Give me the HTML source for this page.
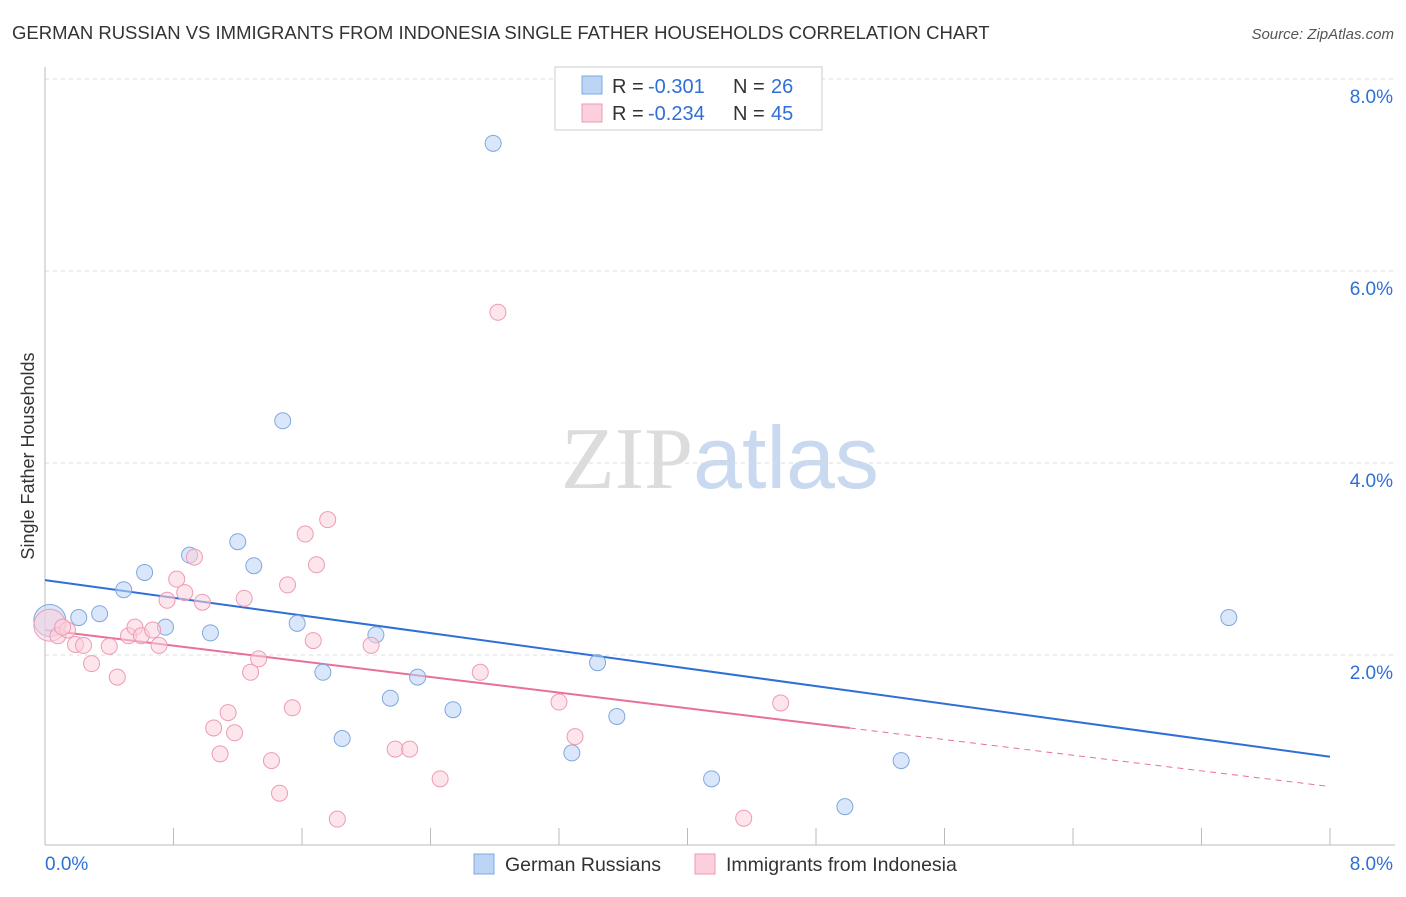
<!DOCTYPE html>
<html><head><meta charset="utf-8"><style>
body{margin:0;background:#fff;font-family:"Liberation Sans",sans-serif;}
svg text{font-family:"Liberation Sans",sans-serif;}
</style></head><body>
<svg id="chart" width="1406" height="892" xmlns="http://www.w3.org/2000/svg">
<text x="12" y="39" font-size="18.5" fill="#333">GERMAN RUSSIAN VS IMMIGRANTS FROM INDONESIA SINGLE FATHER HOUSEHOLDS CORRELATION CHART</text>
<text x="1394" y="39" font-size="15" fill="#555" text-anchor="end" font-style="italic">Source: ZipAtlas.com</text>
<text x="720" y="488" font-size="88" text-anchor="middle"><tspan fill="#dcdcdc" font-family="Liberation Serif">ZIP</tspan><tspan fill="#c9d9f0">atlas</tspan></text>
<text transform="translate(34,456) rotate(-90)" font-size="18" fill="#333" text-anchor="middle">Single Father Households</text>
<g id="grid"></g><g id="axes"></g><g id="lines"></g><g id="pts"></g>
<g>
<rect x="555" y="67" width="267" height="63" fill="#fff" stroke="#ccc"/>
<rect x="582" y="76" width="20" height="18" fill="#bcd4f5" stroke="#7fa8e0"/>
<text x="612" y="93" font-size="20" fill="#333">R =</text>
<text x="648" y="93" font-size="20" fill="#2f6fd6">-0.301</text>
<text x="733" y="93" font-size="20" fill="#333">N =</text>
<text x="771" y="93" font-size="20" fill="#2f6fd6">26</text>
<rect x="582" y="104" width="20" height="18" fill="#fbd0dc" stroke="#ef9ab3"/>
<text x="612" y="120" font-size="20" fill="#333">R =</text>
<text x="648" y="120" font-size="20" fill="#2f6fd6">-0.234</text>
<text x="733" y="120" font-size="20" fill="#333">N =</text>
<text x="771" y="120" font-size="20" fill="#2f6fd6">45</text>
</g>
<g>
<rect x="474" y="854" width="20" height="20" fill="#bcd4f5" stroke="#7fa8e0"/>
<text x="505" y="871" font-size="19.5" fill="#333">German Russians</text>
<rect x="695" y="854" width="20" height="20" fill="#fbd0dc" stroke="#ef9ab3"/>
<text x="726" y="871" font-size="19.5" fill="#333">Immigrants from Indonesia</text>
</g>
</svg>
<script>
const blueX=[0.03,0.21,0.34,0.49,0.62,0.75,0.90,1.03,1.20,1.30,1.48,1.57,1.73,1.85,2.06,2.15,2.32,2.54,2.79,3.28,3.44,3.56,4.15,4.98,5.33,7.37];
const blueY=[2.36,2.39,2.43,2.68,2.86,2.29,3.04,2.23,3.18,2.93,4.44,2.33,1.82,1.13,2.21,1.55,1.77,1.43,7.33,0.98,1.92,1.36,0.71,0.42,0.90,2.39];
const pinkX=[0.03,0.08,0.14,0.19,0.24,0.29,0.40,0.45,0.52,0.56,0.60,0.67,0.71,0.76,0.82,0.87,0.93,0.98,1.05,1.09,1.14,1.18,1.24,1.28,1.33,1.41,1.46,1.51,1.54,1.62,1.67,1.69,1.76,1.82,2.03,2.18,2.27,2.46,2.71,2.82,3.20,3.30,4.35,4.58,0.11];
const pinkY=[2.31,2.20,2.26,2.11,2.10,1.91,2.09,1.77,2.20,2.29,2.20,2.26,2.10,2.57,2.79,2.65,3.02,2.55,1.24,0.97,1.40,1.19,2.59,1.82,1.96,0.90,0.56,2.73,1.45,3.26,2.15,2.94,3.41,0.29,2.10,1.02,1.02,0.71,1.82,5.57,1.51,1.15,0.30,1.50,2.29];
const yTicks=[2,4,6,8];
const yTickLabels=["2.0%","4.0%","6.0%","8.0%"];
const xTickLabels=["0.0%","8.0%"];
const blueTrend=[2.78,0.94];
const pinkTrend=[2.26,0.63];
const pinkSolidEnd=5.01;
const NS="http://www.w3.org/2000/svg";
const sx=v=>45+v/8*1285, sy=v=>847-v/2*192;
function mk(t,a,p){const e=document.createElementNS(NS,t);for(const k in a)e.setAttribute(k,a[k]);document.getElementById(p).appendChild(e);return e;}
yTicks.forEach((t,i)=>{
 const g=mk('line',{x1:45,x2:1395,y1:sy(t),y2:sy(t),stroke:'#ddd','stroke-dasharray':'4,4'},'grid');
 
 
 const l=mk('text',{x:1393,y:sy(t)+24,'font-size':19,fill:'#2f6fd6','text-anchor':'end'},'grid');
 l.textContent=yTickLabels[i];
 
 
});
const ax=mk('line',{x1:45,x2:45,y1:67,y2:845,stroke:'#bbb'},'axes');


const bx=mk('line',{x1:45,x2:1395,y1:845,y2:845,stroke:'#bbb'},'axes');


for(let i=0;i<=10;i++){
 const t=mk('line',{x1:sx(i*0.8),x2:sx(i*0.8),y1:828,y2:845,stroke:'#bbb'},'axes');
 
 
}
[[0,'start',45],[8,'end',1393]].forEach((d,i)=>{
 const l=mk('text',{x:d[2],y:870,'font-size':19,fill:'#2f6fd6','text-anchor':d[1]},'axes');
 l.textContent=xTickLabels[i];
 
 
});
function pts(X,Y,fill,stroke,name){
 X.forEach((x,i)=>{
  const r=i===0?16:8;
  const c=mk('circle',{cx:sx(x),cy:sy(Y[i]),r:r,fill:fill,'fill-opacity':0.55,stroke:stroke,'stroke-width':1},'pts');
  
  
 });
}
pts(blueX,blueY,'#bcd4f5','#7fa8e0','german-russians-point');
pts(pinkX,pinkY,'#fbd0dc','#ef9ab3','indonesia-point');
const pAt=x=>pinkTrend[0]+(pinkTrend[1]-pinkTrend[0])*x/8;
const bl=mk('line',{x1:sx(0),y1:sy(blueTrend[0]),x2:sx(8),y2:sy(blueTrend[1]),stroke:'#2f6fd6','stroke-width':2},'lines');


const pl=mk('line',{x1:sx(0),y1:sy(pinkTrend[0]),x2:sx(pinkSolidEnd),y2:sy(pAt(pinkSolidEnd)),stroke:'#e8709a','stroke-width':2},'lines');


const pd=mk('line',{x1:sx(pinkSolidEnd),y1:sy(pAt(pinkSolidEnd)),x2:sx(8),y2:sy(pinkTrend[1]),stroke:'#e8709a','stroke-width':1,'stroke-dasharray':'6,5'},'lines');


</script>
</body></html>
